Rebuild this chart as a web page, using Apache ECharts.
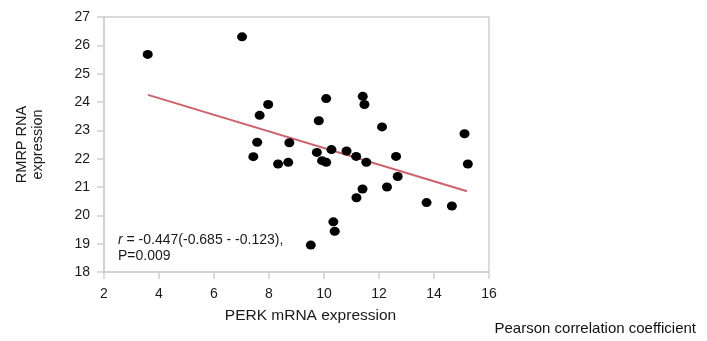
<!DOCTYPE html>
<html>
<head>
<meta charset="utf-8">
<script src="https://cdn.jsdelivr.net/npm/echarts@6/dist/echarts.min.js"></script>
<style>
  html, body { margin: 0; padding: 0; background: #fff; }
  #chart { width: 707px; height: 341px; }
</style>
</head>
<body>
<div id="chart"></div>
<script>
// PERK mRNA expression (x) vs RMRP RNA expression (y)
const perk = [3.59, 7.02, 7.66, 7.57, 7.43, 7.97, 8.33, 8.70, 8.74, 10.08, 9.81, 9.74, 9.93,
  10.08, 10.27, 10.82, 11.17, 11.54, 11.41, 11.47, 12.11, 12.62, 12.68, 15.11, 15.23,
  11.40, 11.18, 12.29, 13.73, 14.65, 10.34, 10.39, 9.52];
const rmrp = [25.68, 26.30, 23.53, 22.58, 22.07, 23.91, 21.81, 21.87, 22.56, 24.12, 23.34, 22.22, 21.93,
  21.87, 22.32, 22.27, 22.08, 21.87, 24.20, 23.91, 23.12, 22.08, 21.37, 22.88, 21.81,
  20.93, 20.62, 21.00, 20.45, 20.33, 19.77, 19.44, 18.95];
// fitted line end points
const fitX = [3.6, 15.2];
const fitY = [24.25, 20.85];

const points = perk.map((x, i) => [x, rmrp[i]]);
const fit = fitX.map((x, i) => [x, fitY[i]]);

const chart = echarts.init(document.getElementById('chart'));
const font = '"Liberation Sans", Arial, sans-serif';
const ink = '#1a1a1a';

chart.setOption({
  animation: false,
  title: {
    text: 'Pearson correlation coefficient',
    right: 6,
    bottom: 0,
    textStyle: { fontFamily: font, fontSize: 15, fontWeight: 'normal', color: '#111' }
  },
  grid: {
    left: 104, right: 218, top: 17, bottom: 69,
    show: true, borderColor: '#cfcfcf', borderWidth: 1.5
  },
  xAxis: {
    type: 'value',
    min: 2, max: 16, interval: 2,
    name: 'PERK mRNA expression',
    nameLocation: 'middle',
    nameGap: 36,
    nameTextStyle: { fontFamily: font, fontSize: 15.5, color: ink, padding: [0, 0, 0, 28] },
    axisLine: { lineStyle: { color: '#cfcfcf', width: 1.5 } },
    axisTick: { show: true, length: 7, lineStyle: { color: '#cfcfcf', width: 1.5 } },
    axisLabel: { fontFamily: font, fontSize: 14, color: ink, margin: 15 },
    splitLine: { show: false }
  },
  yAxis: {
    type: 'value',
    min: 18, max: 27, interval: 1,
    name: 'RMRP RNA\nexpression',
    nameLocation: 'middle',
    nameGap: 58,
    nameTextStyle: { fontFamily: font, fontSize: 14.5, color: ink, lineHeight: 16 },
    axisLine: { show: true, lineStyle: { color: '#cfcfcf', width: 1.5 } },
    axisTick: { show: true, length: 7, lineStyle: { color: '#cfcfcf', width: 1.5 } },
    axisLabel: { fontFamily: font, fontSize: 14, color: ink, margin: 14 },
    splitLine: { show: false }
  },
  graphic: [{
    type: 'text',
    left: 118,
    top: 232,
    style: {
      text: '{i|r} = -0.447(-0.685 - -0.123),\nP=0.009',
      font: '14px ' + font,
      fill: ink,
      lineHeight: 16,
      rich: { i: { fontStyle: 'italic', fontFamily: font, fontSize: 14, fill: ink } }
    }
  }],
  series: [
    {
      type: 'line',
      data: fit,
      symbol: 'none',
      lineStyle: { color: '#d0606a', width: 2 },
      z: 2
    },
    {
      type: 'scatter',
      data: points,
      symbol: 'circle',
      symbolSize: [10, 9],
      itemStyle: { color: '#000', opacity: 1 },
      z: 3
    }
  ]
});
</script>
</body>
</html>
